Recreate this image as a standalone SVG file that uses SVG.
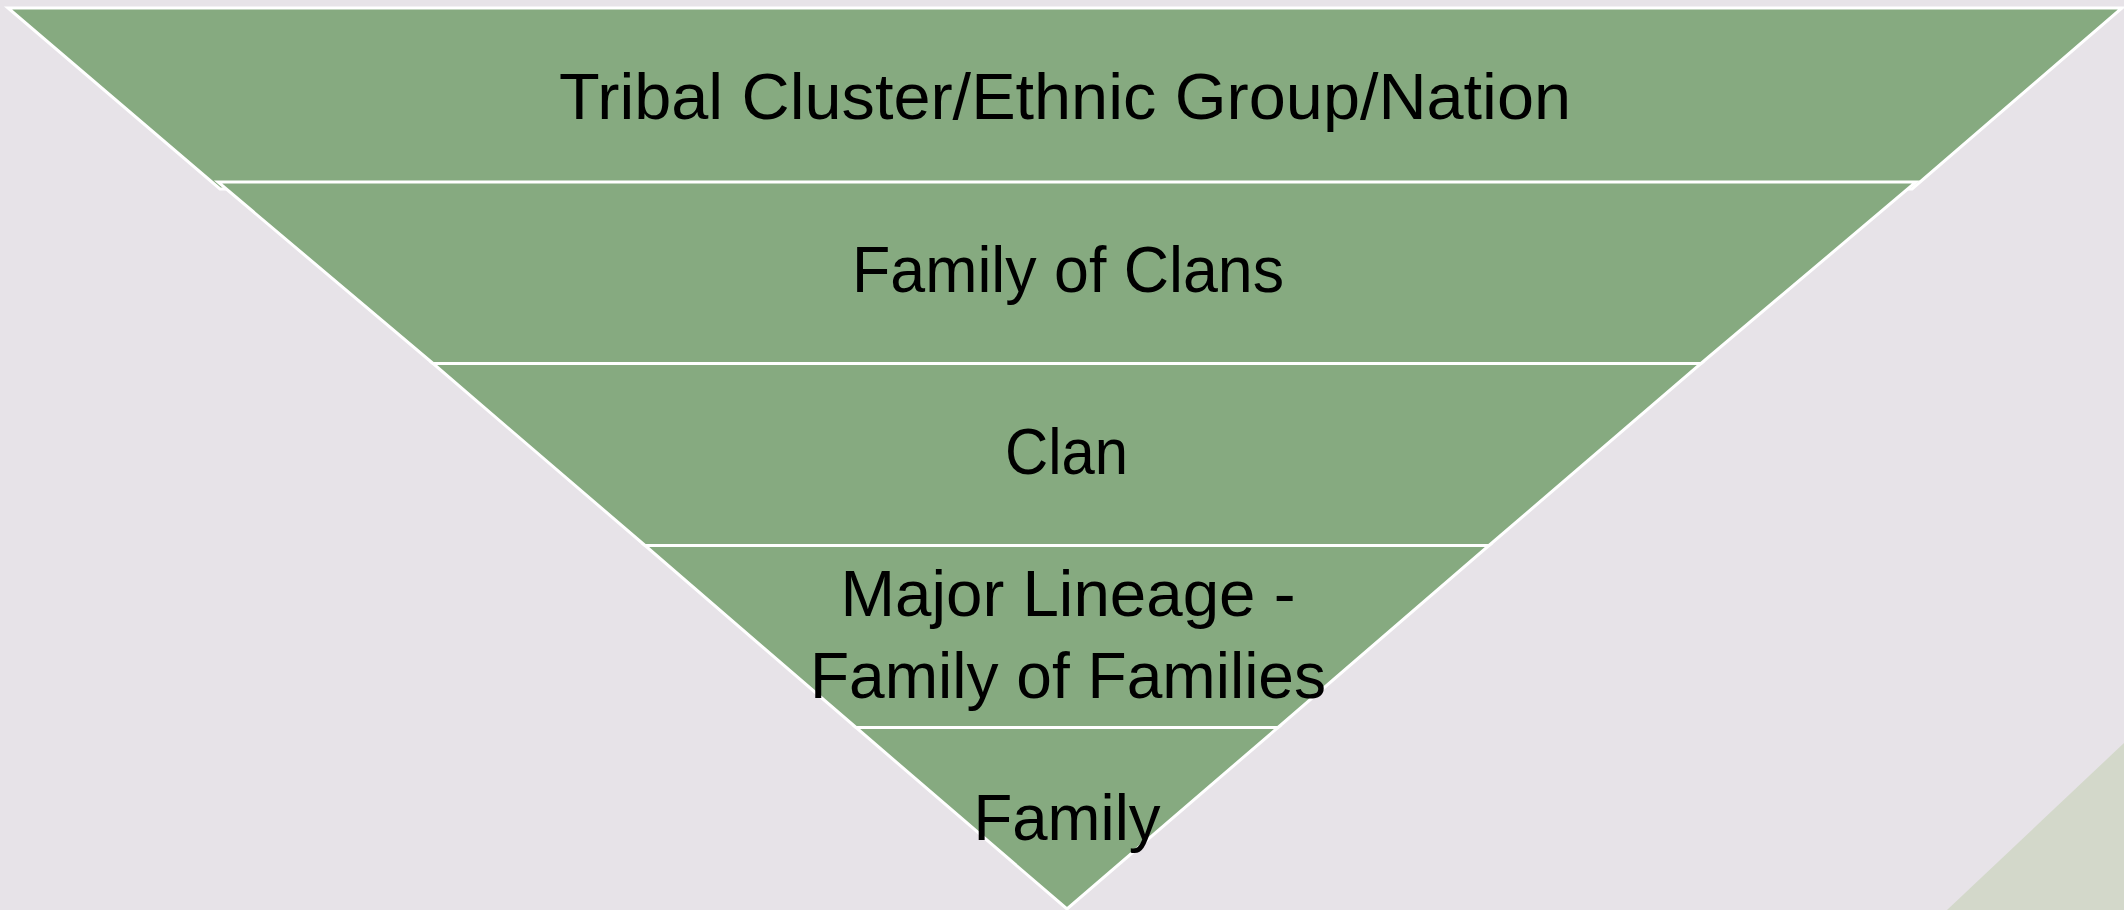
<svg xmlns="http://www.w3.org/2000/svg" width="2124" height="910" viewBox="0 0 2124 910">
<style>
.band{fill:#86AA80;stroke:#FFFFFF;stroke-width:3;stroke-linejoin:miter}
.lbl{font-family:"Liberation Sans",Arial,sans-serif;font-size:64px;fill:#000000;text-anchor:middle}
</style>
<rect x="0" y="0" width="2124" height="910" fill="#E7E3E8"/>
<polygon points="1947,910 2124,743 2124,910" fill="#D3D8CA"/>
<g id="band1">
<polygon class="band" points="8,8 2122,8 1912,189 220,189"/>
<text class="lbl" x="1065" y="119" textLength="1012" lengthAdjust="spacingAndGlyphs">Tribal Cluster/Ethnic Group/Nation</text>
</g>
<g id="band2">
<polygon class="band" points="218,182 1916,182 1701,363.5 433,363.5"/>
<text class="lbl" x="1068" y="292" textLength="432" lengthAdjust="spacingAndGlyphs">Family of Clans</text>
</g>
<g id="band3">
<polygon class="band" points="433,363.5 1701,363.5 1489,545.5 645,545.5"/>
<text class="lbl" x="1066.5" y="474" textLength="123" lengthAdjust="spacingAndGlyphs">Clan</text>
</g>
<g id="band4">
<polygon class="band" points="645,545.5 1489,545.5 1278,727.5 856,727.5"/>
<text class="lbl" x="1068" y="616" textLength="455" lengthAdjust="spacingAndGlyphs">Major Lineage -</text>
<text class="lbl" x="1068" y="698" textLength="516" lengthAdjust="spacingAndGlyphs">Family of Families</text>
</g>
<g id="band5">
<polygon class="band" points="856,727.5 1278,727.5 1067,909"/>
<text class="lbl" x="1067" y="840" textLength="187" lengthAdjust="spacingAndGlyphs">Family</text>
</g>
<g id="connectors"></g>
</svg>
